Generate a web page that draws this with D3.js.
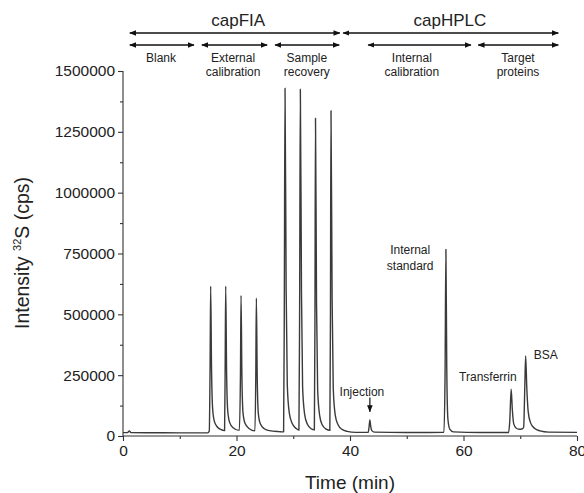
<!DOCTYPE html>
<html>
<head>
<meta charset="utf-8">
<script src="https://cdn.jsdelivr.net/npm/d3@7"></script>
<style>
  body { margin: 0; background: #fff; }
  svg text { font-family: "Liberation Sans", Arial, sans-serif; fill: #222; }
</style>
</head>
<body>
<script>
// chromatogram (time in min, intensity in cps)
var time = [0, 0.8, 1.1, 1.4, 5, 10, 14.9,
  15.2, 15.35, 15.45, 15.6, 15.8, 16.1, 16.6, 17.2, 17.9,
  18.0, 18.1, 18.25, 18.45, 18.8, 19.4, 20.5,
  20.7, 20.8, 20.95, 21.15, 21.5, 22.2, 23.25,
  23.4, 23.5, 23.65, 23.85, 24.2, 24.9, 25.8, 27.5, 28.3,
  28.42, 28.55, 28.75, 28.95, 29.3, 29.8, 30.5, 31.0,
  31.12, 31.25, 31.45, 31.65, 32.0, 32.5, 33.2, 33.72,
  33.82, 33.92, 34.1, 34.3, 34.65, 35.1, 35.8, 36.45,
  36.55, 36.65, 36.85, 37.05, 37.4, 37.9, 38.6, 39.5, 41,
  43.2, 43.35, 43.5, 43.65, 43.85, 44.3, 50, 56.55,
  56.75, 56.9, 57.05, 57.25, 57.6, 58.2, 63, 67.95,
  68.15, 68.4, 68.6, 68.85, 69.3, 69.8, 70.3, 70.6,
  70.8, 70.95, 71.15, 71.4, 71.8, 72.5, 73.5, 75, 80];
var intensity = [14000, 14000, 21000, 14000, 13500, 13000, 13000,
  20000, 300000, 616000, 280000, 110000, 60000, 38000, 27000, 22000,
  280000, 616000, 270000, 105000, 55000, 34000, 23000,
  260000, 578000, 250000, 95000, 52000, 31000, 21000,
  250000, 567000, 245000, 92000, 50000, 30000, 22000, 18000, 17000,
  500000, 1429000, 600000, 210000, 95000, 52000, 31000, 24000,
  500000, 1425000, 590000, 200000, 90000, 48000, 29000, 25000,
  450000, 1306000, 550000, 190000, 85000, 46000, 28000, 23000,
  460000, 1337000, 560000, 195000, 86000, 46000, 27000, 19000, 15000,
  15000, 35000, 66000, 40000, 22000, 16000, 14500, 15000,
  250000, 767000, 280000, 70000, 27000, 17000, 14500, 14500,
  60000, 192000, 110000, 50000, 32000, 28000, 29000, 36000,
  200000, 329000, 200000, 100000, 55000, 32000, 21000, 16000, 15000];

var xTicks = [0, 20, 40, 60, 80];
var yTicks = [0, 250000, 500000, 750000, 1000000, 1250000, 1500000];

// section brackets above the plot (minutes)
var groupNames = ["capFIA", "capHPLC"];
var groupFrom = [1.2, 38.8];
var groupTo = [38.2, 76.7];
var groupLabelAt = [20.3, 57.6];

var stepNames = [["Blank"], ["External", "calibration"], ["Sample", "recovery"], ["Internal", "calibration"], ["Target", "proteins"]];
var stepFrom = [1.2, 13.9, 26.8, 43.2, 62.6];
var stepTo = [12.5, 25.4, 38.1, 61.3, 76.7];
var stepLabelAt = [6.7, 19.4, 32.4, 50.9, 69.6];

// peak labels (minutes, cps)
var peakLabels = [["Injection"], ["Internal", "standard"], ["Transferrin"], ["BSA"]];
var peakLabelT = [42.1, 50.6, 64.3, 74.5];
var peakLabelI = [181000, 764000, 242000, 333000];

var W = 584, H = 493;
var svg = d3.select("body").append("svg").attr("width", W).attr("height", H);

var x = d3.scaleLinear().domain([0, 80]).range([123, 577]);
var y = d3.scaleLinear().domain([0, 1500000]).range([436, 71]);

var defs = svg.append("defs");
defs.append("marker").attr("id", "ah").attr("viewBox", "0 0 10 10")
  .attr("refX", 9).attr("refY", 5).attr("markerWidth", 7).attr("markerHeight", 7)
  .attr("markerUnits", "userSpaceOnUse").attr("orient", "auto-start-reverse")
  .append("path").attr("d", "M0,1L10,5L0,9Z").attr("fill", "#111");

// axes
var xAxis = svg.append("g").attr("transform", "translate(0,436)")
  .call(d3.axisBottom(x).tickValues(xTicks).tickSize(5).tickPadding(4).tickFormat(d3.format("d")));
svg.append("g").attr("transform", "translate(0,436)")
  .call(d3.axisBottom(x).tickValues([10, 30, 50, 70]).tickSize(3).tickFormat(""))
  .select(".domain").remove();
var yAxis = svg.append("g").attr("transform", "translate(123,0)")
  .call(d3.axisLeft(y).tickValues(yTicks).tickSize(5).tickPadding(3).tickFormat(d3.format("d")));
svg.append("g").attr("transform", "translate(123,0)")
  .call(d3.axisLeft(y).tickValues([125000, 375000, 625000, 875000, 1125000, 1375000]).tickSize(3).tickFormat(""))
  .select(".domain").remove();

svg.selectAll(".domain").attr("stroke", "#333").attr("stroke-width", 1.1);
svg.selectAll(".tick line").attr("stroke", "#333").attr("stroke-width", 1.1);
svg.selectAll(".tick text").attr("font-size", 15.5).attr("fill", "#222")
  .attr("font-family", "Liberation Sans, Arial, sans-serif");
xAxis.select(".domain").attr("d", "M123,0H577");
yAxis.select(".domain").attr("d", "M0,436V71");

// trace
var pts = time.map(function(t, i){ return [t, intensity[i]]; });
svg.append("path").datum(pts)
  .attr("fill", "none").attr("stroke", "#3a3a3a").attr("stroke-width", 1.4)
  .attr("stroke-linejoin", "round")
  .attr("d", d3.line().x(function(d){ return x(d[0]); }).y(function(d){ return y(d[1]); }).curve(d3.curveMonotoneX));

// axis titles
svg.append("text").text("Time (min)").attr("x", 350).attr("y", 489)
  .attr("text-anchor", "middle").attr("font-size", 19);
var yt = svg.append("text").attr("transform", "translate(29,253) rotate(-90)")
  .attr("text-anchor", "middle").attr("font-size", 19.5);
yt.append("tspan").text("Intensity ");
yt.append("tspan").text("32").attr("font-size", 11).attr("dy", -8);
yt.append("tspan").text("S (cps)").attr("dy", 8);

// brackets
svg.selectAll(".grp").data(groupNames).enter().append("line")
  .attr("x1", function(d, i){ return x(groupFrom[i]); })
  .attr("x2", function(d, i){ return x(groupTo[i]); })
  .attr("y1", 33).attr("y2", 33)
  .attr("stroke", "#111").attr("stroke-width", 1.5)
  .attr("marker-start", "url(#ah)").attr("marker-end", "url(#ah)");
svg.selectAll(".grpl").data(groupNames).enter().append("text")
  .text(function(d){ return d; })
  .attr("x", function(d, i){ return x(groupLabelAt[i]); }).attr("y", 26)
  .attr("text-anchor", "middle").attr("font-size", 17);

svg.selectAll(".stp").data(stepNames).enter().append("line")
  .attr("x1", function(d, i){ return x(stepFrom[i]); })
  .attr("x2", function(d, i){ return x(stepTo[i]); })
  .attr("y1", 45).attr("y2", 45)
  .attr("stroke", "#111").attr("stroke-width", 1.5)
  .attr("marker-start", "url(#ah)").attr("marker-end", "url(#ah)");
svg.selectAll(".stpl").data(stepNames).enter().append("text")
  .attr("x", function(d, i){ return x(stepLabelAt[i]); }).attr("y", 62)
  .attr("text-anchor", "middle").attr("font-size", 12)
  .each(function(d){
    var t = d3.select(this), px = t.attr("x");
    d.forEach(function(s, k){
      t.append("tspan").text(s).attr("x", px).attr("dy", k ? 14 : 0);
    });
  });

// peak labels
svg.selectAll(".pk").data(peakLabels).enter().append("text")
  .attr("x", function(d, i){ return x(peakLabelT[i]); })
  .attr("y", function(d, i){ return y(peakLabelI[i]) + 4; })
  .attr("text-anchor", "middle").attr("font-size", 12)
  .each(function(d){
    var t = d3.select(this), px = t.attr("x");
    d.forEach(function(s, k){
      t.append("tspan").text(s).attr("x", px).attr("dy", k ? 16 : 0);
    });
  });

// injection arrow
svg.append("line")
  .attr("x1", x(43.5)).attr("x2", x(43.5))
  .attr("y1", y(158000)).attr("y2", y(100000))
  .attr("stroke", "#111").attr("stroke-width", 1.2)
  .attr("marker-end", "url(#ah)");
</script>
</body>
</html>
